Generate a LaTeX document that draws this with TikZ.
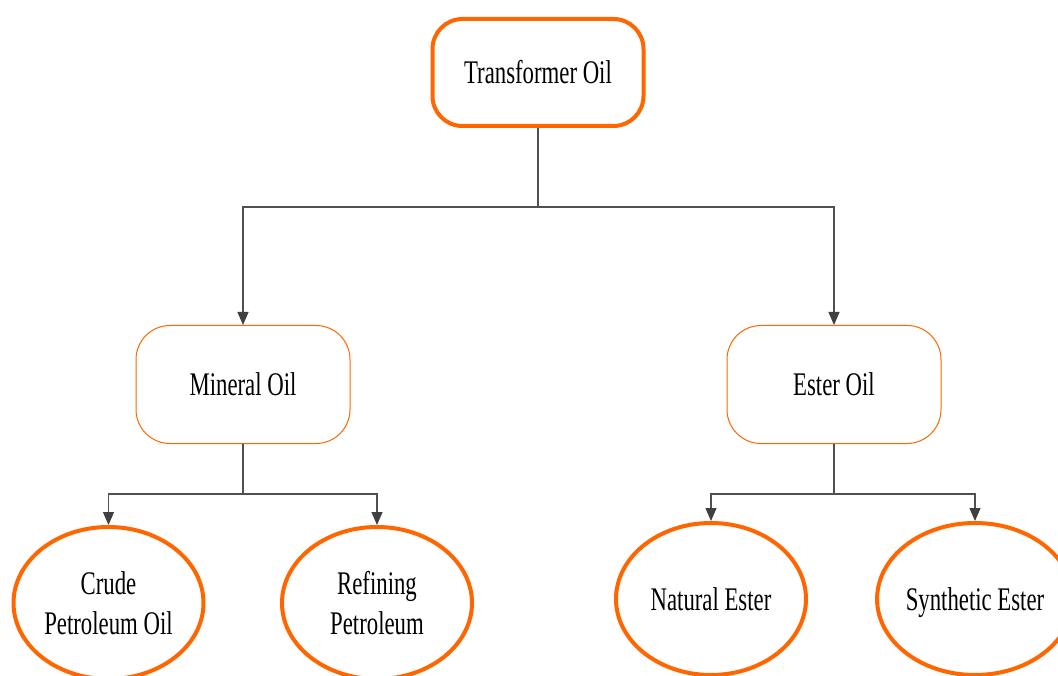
\documentclass[tikz,border=0pt]{standalone}
\usepackage{fontspec}
\setmainfont[FakeStretch=0.69]{Liberation Serif}
\usetikzlibrary{arrows.meta,shapes.geometric}
\definecolor{orng}{HTML}{FF6600}
\definecolor{conn}{HTML}{505050}
\definecolor{tipc}{HTML}{404040}
\begin{document}
\begin{tikzpicture}[x=1pt,y=-1pt,
  lbl/.style={font=\fontsize{33}{40}\selectfont, align=center, inner sep=0pt},
  topbox/.style={lbl, draw=orng, line width=4pt, rounded corners=30pt, minimum width=211pt, minimum height=107pt},
  midbox/.style={lbl, draw=orng, line width=1pt, rounded corners=34pt, minimum width=214pt, minimum height=118pt},
  leaf/.style={lbl, ellipse, draw=orng, line width=4pt, minimum width=190pt, minimum height=152pt},
  link/.style={draw=conn, line width=1.1pt, -{Triangle[length=13pt,width=11pt,fill=tipc,color=tipc]}}
]
\useasboundingbox (0,0) rectangle (1058,676);
\node[topbox] (top) at (538,72.5) {Transformer Oil};
\node[midbox] (min) at (243,384.5) {Mineral Oil};
\node[midbox] (est) at (834,384.5) {Ester Oil};
\node[leaf] (crude) at (108.5,603) {Crude\\Petroleum Oil};
\node[leaf] (ref) at (377,603) {Refining\\Petroleum};
\node[leaf] (nat) at (711,599) {Natural Ester};
\node[leaf, text depth=0pt] (syn) at (975,599) {Synthetic Ester};
\coordinate (b0) at (538,207);
\coordinate (b1) at (243,494);
\coordinate (b2) at (834,494);
\draw[conn, line width=1.1pt] (top.south) -- (b0);
\draw[link] (b0) -| (min.north);
\draw[link] (b0) -| (est.north);
\draw[conn, line width=1.1pt] (min.south) -- (b1);
\draw[link] (b1) -| (crude.north);
\draw[link] (b1) -| (ref.north);
\draw[conn, line width=1.1pt] (est.south) -- (b2);
\draw[link] (b2) -| (nat.north);
\draw[link] (b2) -| (syn.north);
\end{tikzpicture}
\end{document}
